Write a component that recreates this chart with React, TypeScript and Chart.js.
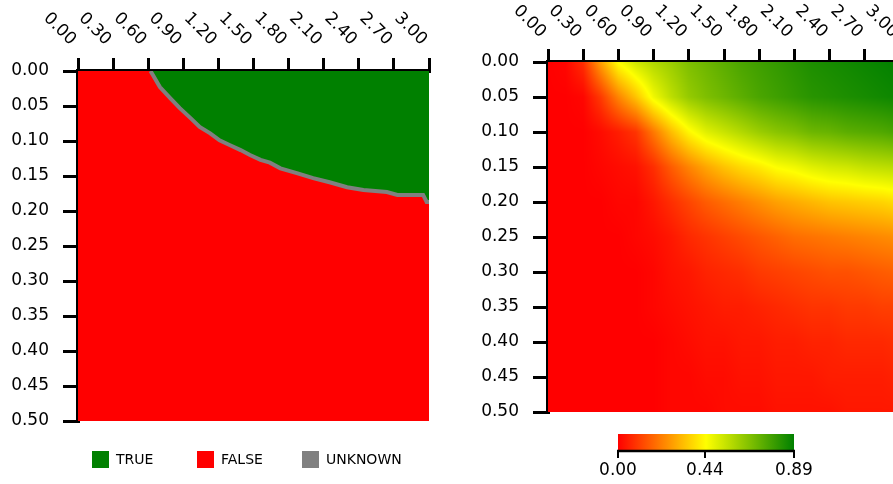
import React, { useEffect, useRef } from "react";
import { Chart, registerables } from "chart.js";

Chart.register(...registerables);
Chart.defaults.font.family = "'DejaVu Sans', sans-serif";

// ---------- axis ranges / ticks ----------
const X_MIN = 0;
const X_MAX = 3;
const X_STEP = 0.3;
const Y_MIN = 0;
const Y_MAX = 0.5;
const Y_STEP = 0.05;

// ---------- left panel: decision boundary (TRUE above, FALSE below) ----------
const boundaryX = [0.62, 0.70, 0.79, 0.87, 0.96, 1.04, 1.13, 1.21, 1.30, 1.39, 1.47, 1.56, 1.64, 1.73, 1.87, 2.01, 2.15, 2.30, 2.44, 2.64, 2.73, 2.95, 2.98, 3.00];
const boundaryY = [0.000, 0.023, 0.039, 0.053, 0.067, 0.080, 0.089, 0.099, 0.106, 0.113, 0.120, 0.127, 0.131, 0.139, 0.146, 0.153, 0.159, 0.166, 0.170, 0.173, 0.177, 0.177, 0.187, 0.187];

const legendLabels = ["TRUE", "FALSE", "UNKNOWN"];
const legendColors = ["#008000", "#ff0000", "#808080"];

// ---------- right panel: value field (rows = y, columns = x) ----------
const gridX = [0, 0.15, 0.3, 0.45, 0.6, 0.75, 0.9, 1.05, 1.2, 1.35, 1.5, 1.65, 1.8, 1.95, 2.1, 2.25, 2.4, 2.55, 2.7, 2.85, 3.0];
const gridY = [0, 0.05, 0.1, 0.15, 0.2, 0.25, 0.3, 0.35, 0.4, 0.45, 0.5];

const rowY000 = [0, 0.01, 0.08, 0.28, 0.45, 0.53, 0.58, 0.62, 0.67, 0.70, 0.73, 0.76, 0.78, 0.80, 0.82, 0.84, 0.85, 0.86, 0.87, 0.88, 0.89];
const rowY005 = [0, 0, 0.01, 0.10, 0.23, 0.34, 0.47, 0.56, 0.63, 0.67, 0.70, 0.73, 0.76, 0.78, 0.80, 0.82, 0.83, 0.84, 0.85, 0.86, 0.87];
const rowY010 = [0, 0, 0, 0.02, 0.05, 0.09, 0.21, 0.33, 0.43, 0.50, 0.54, 0.58, 0.62, 0.65, 0.67, 0.70, 0.71, 0.73, 0.74, 0.75, 0.77];
const rowY015 = [0, 0, 0, 0.01, 0.02, 0.03, 0.08, 0.16, 0.23, 0.29, 0.34, 0.38, 0.41, 0.45, 0.47, 0.50, 0.52, 0.53, 0.55, 0.56, 0.57];
const rowY020 = [0, 0, 0, 0, 0.01, 0.01, 0.04, 0.08, 0.12, 0.16, 0.19, 0.22, 0.25, 0.28, 0.30, 0.32, 0.34, 0.35, 0.36, 0.37, 0.39];
const rowY025 = [0, 0, 0, 0, 0, 0.01, 0.02, 0.04, 0.07, 0.09, 0.11, 0.13, 0.15, 0.17, 0.19, 0.20, 0.21, 0.22, 0.23, 0.24, 0.25];
const rowY030 = [0, 0, 0, 0, 0, 0, 0.01, 0.03, 0.04, 0.06, 0.07, 0.08, 0.10, 0.11, 0.12, 0.13, 0.14, 0.14, 0.15, 0.16, 0.17];
const rowY035 = [0, 0, 0, 0, 0, 0, 0.01, 0.02, 0.03, 0.04, 0.05, 0.05, 0.06, 0.07, 0.08, 0.09, 0.09, 0.10, 0.10, 0.11, 0.11];
const rowY040 = [0, 0, 0, 0, 0, 0, 0, 0.01, 0.02, 0.03, 0.03, 0.04, 0.04, 0.05, 0.05, 0.06, 0.06, 0.07, 0.07, 0.07, 0.08];
const rowY045 = [0, 0, 0, 0, 0, 0, 0, 0.01, 0.01, 0.02, 0.02, 0.03, 0.03, 0.04, 0.04, 0.04, 0.05, 0.05, 0.05, 0.05, 0.06];
const rowY050 = [0, 0, 0, 0, 0, 0, 0, 0.01, 0.01, 0.01, 0.02, 0.02, 0.02, 0.03, 0.03, 0.03, 0.03, 0.04, 0.04, 0.04, 0.04];

const COLOR_MIN = 0;
const COLOR_MAX = 0.89;
const colorbarTicks = [0, 0.44, 0.89];

// table built from the rows above
const valueGrid = [rowY000, rowY005, rowY010, rowY015, rowY020, rowY025, rowY030, rowY035, rowY040, rowY045, rowY050];

const TEXT = "#000";
const FONT_FAMILY = "'DejaVu Sans', sans-serif";
const FONT_TICK = `17px ${FONT_FAMILY}`;

function colorFor(v: number): [number, number, number] {
  const t = Math.max(0, Math.min(1, (v - COLOR_MIN) / (COLOR_MAX - COLOR_MIN)));
  if (t <= 0.5) return [255, Math.round(510 * t), 0];
  const s = (t - 0.5) * 2;
  return [Math.round(255 * (1 - s)), Math.round(255 - 127 * s), 0];
}

// locate value in the grid (shading between grid nodes)
function sampleGrid(x: number, y: number): number {
  const nx = gridX.length;
  const ny = gridY.length;
  const cx = Math.max(gridX[0], Math.min(gridX[nx - 1], x));
  const cy = Math.max(gridY[0], Math.min(gridY[ny - 1], y));
  let i = 0;
  while (i < nx - 2 && cx > gridX[i + 1]) i++;
  let j = 0;
  while (j < ny - 2 && cy > gridY[j + 1]) j++;
  const fx = (cx - gridX[i]) / (gridX[i + 1] - gridX[i]);
  const fy = (cy - gridY[j]) / (gridY[j + 1] - gridY[j]);
  const a = valueGrid[j][i] * (1 - fx) + valueGrid[j][i + 1] * fx;
  const b = valueGrid[j + 1][i] * (1 - fx) + valueGrid[j + 1][i + 1] * fx;
  return a * (1 - fy) + b * fy;
}

function makeTopLabels(dy: number) {
  return {
    id: "topLabels",
    afterDraw(chart: any) {
      const xs = chart.scales.x;
      const ctx = chart.ctx;
      const top = chart.chartArea.top;
      ctx.save();
      ctx.font = FONT_TICK;
      ctx.fillStyle = TEXT;
      ctx.textAlign = "right";
      ctx.textBaseline = "middle";
      xs.ticks.forEach((t: any, i: number) => {
        const px = xs.getPixelForTick(i);
        ctx.save();
        ctx.translate(px - 5, top - dy);
        ctx.rotate(Math.PI / 4);
        ctx.fillText(Number(t.value).toFixed(2), 0, 0);
        ctx.restore();
      });
      ctx.restore();
    },
  };
}

function axesConfig(topH: number, leftW: number) {
  const grid = {
    drawOnChartArea: false,
    drawTicks: true,
    color: "#000",
    tickColor: "#000",
    tickWidth: 3,
    lineWidth: 3,
  };
  return {
    x: {
      type: "linear" as const,
      position: "top" as const,
      min: X_MIN,
      max: X_MAX,
      ticks: { stepSize: X_STEP, display: false },
      grid: { ...grid, tickLength: 13 },
      border: { display: true, color: "#000", width: 4 },
      afterFit: (s: any) => {
        s.height = topH;
      },
    },
    y: {
      type: "linear" as const,
      position: "left" as const,
      reverse: true,
      min: Y_MIN,
      max: Y_MAX,
      ticks: {
        stepSize: Y_STEP,
        padding: 14,
        color: TEXT,
        font: { family: FONT_FAMILY, size: 17 },
        callback: (v: any) => Number(v).toFixed(2),
      },
      grid: { ...grid, tickLength: 15 },
      border: { display: true, color: "#000", width: 4 },
      afterFit: (s: any) => {
        s.width = leftW;
      },
    },
  };
}

const legendPlugin = {
  id: "boxLegend",
  afterDraw(chart: any) {
    const ctx = chart.ctx;
    ctx.save();
    ctx.font = `14px ${FONT_FAMILY}`;
    ctx.textAlign = "left";
    ctx.textBaseline = "middle";
    legendLabels.forEach((lab, i) => {
      const x0 = 92 + i * 105;
      ctx.fillStyle = legendColors[i];
      ctx.fillRect(x0, 451, 17, 17);
      ctx.fillStyle = TEXT;
      ctx.fillText(lab, x0 + 24, 460);
    });
    ctx.restore();
  },
};

const heatmapPlugin = {
  id: "heatmap",
  beforeDatasetsDraw(chart: any) {
    const xs = chart.scales.x;
    const ys = chart.scales.y;
    const ca = chart.chartArea;
    const x0 = Math.floor(ca.left);
    const y0 = Math.floor(ca.top);
    const w = Math.ceil(ca.right) - x0;
    const h = Math.ceil(ca.bottom) - y0;
    const ctx = chart.ctx;
    const img = ctx.createImageData(w, h);
    for (let py = 0; py < h; py++) {
      const yv = ys.getValueForPixel(y0 + py + 0.5);
      for (let px = 0; px < w; px++) {
        const xv = xs.getValueForPixel(x0 + px + 0.5);
        const [r, g, b] = colorFor(sampleGrid(xv, yv));
        const k = (py * w + px) * 4;
        img.data[k] = r;
        img.data[k + 1] = g;
        img.data[k + 2] = b;
        img.data[k + 3] = 255;
      }
    }
    const off = document.createElement("canvas");
    off.width = w;
    off.height = h;
    off.getContext("2d")!.putImageData(img, 0, 0);
    ctx.save();
    ctx.drawImage(off, x0, y0);
    ctx.restore();
  },
};

const colorbarPlugin = {
  id: "colorbar",
  afterDraw(chart: any) {
    const ctx = chart.ctx;
    const x0 = 158;
    const w = 176;
    const y0 = 434;
    const h = 17;
    const grad = ctx.createLinearGradient(x0, 0, x0 + w, 0);
    const stops = 20;
    for (let i = 0; i <= stops; i++) {
      const v = COLOR_MIN + ((COLOR_MAX - COLOR_MIN) * i) / stops;
      const [r, g, b] = colorFor(v);
      grad.addColorStop(i / stops, `rgb(${r},${g},${b})`);
    }
    ctx.save();
    ctx.fillStyle = grad;
    ctx.fillRect(x0, y0, w, h);
    ctx.strokeStyle = "#000";
    ctx.lineWidth = 2.5;
    ctx.beginPath();
    ctx.moveTo(x0 - 1, y0 + h);
    ctx.lineTo(x0 + w + 1, y0 + h);
    ctx.stroke();
    ctx.lineWidth = 2;
    ctx.font = FONT_TICK;
    ctx.fillStyle = TEXT;
    ctx.textAlign = "center";
    ctx.textBaseline = "middle";
    colorbarTicks.forEach((v) => {
      const px = x0 + ((v - COLOR_MIN) / (COLOR_MAX - COLOR_MIN)) * w;
      ctx.beginPath();
      ctx.moveTo(px, y0 + h);
      ctx.lineTo(px, y0 + h + 7);
      ctx.stroke();
      ctx.fillText(v.toFixed(2), px, 471);
    });
    ctx.restore();
  },
};

export default function App() {
  const leftRef = useRef<HTMLCanvasElement>(null);
  const rightRef = useRef<HTMLCanvasElement>(null);

  useEffect(() => {
    const boundaryPts = boundaryX.map((x, i) => ({ x, y: boundaryY[i] }));
    const left = new Chart(leftRef.current!, {
      type: "scatter",
      data: {
        datasets: [
          {
            label: "UNKNOWN",
            data: boundaryPts,
            showLine: true,
            fill: false,
            borderColor: legendColors[2],
            borderWidth: 4,
            pointRadius: 0,
            tension: 0,
            order: 0,
          } as any,
          {
            label: "TRUE",
            data: boundaryPts,
            showLine: true,
            fill: { value: Y_MIN },
            backgroundColor: legendColors[0],
            borderWidth: 0,
            pointRadius: 0,
            order: 1,
          } as any,
          {
            label: "FALSE",
            data: [
              { x: X_MIN, y: Y_MAX },
              { x: X_MAX, y: Y_MAX },
            ],
            showLine: true,
            fill: { value: Y_MIN },
            backgroundColor: legendColors[1],
            borderWidth: 0,
            pointRadius: 0,
            order: 2,
          } as any,
        ],
      },
      options: {
        responsive: false,
        animation: false,
        events: [],
        layout: { padding: { left: 0, top: 0, right: 21, bottom: 63 } },
        plugins: { legend: { display: false }, tooltip: { enabled: false } },
        scales: axesConfig(71, 78) as any,
      },
      plugins: [makeTopLabels(28.5), legendPlugin],
    });

    const cells: { x: number; y: number; v: number }[] = [];
    gridY.forEach((y, j) => gridX.forEach((x, i) => cells.push({ x, y, v: valueGrid[j][i] })));
    const right = new Chart(rightRef.current!, {
      type: "scatter",
      data: {
        datasets: [
          {
            label: "value",
            data: cells,
            pointRadius: 0,
            showLine: false,
          } as any,
        ],
      },
      options: {
        responsive: false,
        animation: false,
        events: [],
        layout: { padding: { left: 0, top: 0, right: 20, bottom: 72 } },
        plugins: { legend: { display: false }, tooltip: { enabled: false } },
        scales: axesConfig(62, 88) as any,
      },
      plugins: [heatmapPlugin, makeTopLabels(27), colorbarPlugin],
    });

    return () => {
      left.destroy();
      right.destroy();
    };
  }, []);

  return (
    <div
      style={{
        position: "fixed",
        left: 0,
        top: 0,
        width: 893,
        height: 484,
        overflow: "hidden",
        background: "#fff",
      }}
    >
      <canvas
        ref={leftRef}
        width={450}
        height={484}
        style={{ position: "absolute", left: 0, top: 0, width: 450, height: 484 }}
      />
      <canvas
        ref={rightRef}
        width={460}
        height={484}
        style={{ position: "absolute", left: 460, top: 0, width: 460, height: 484 }}
      />
    </div>
  );
}
